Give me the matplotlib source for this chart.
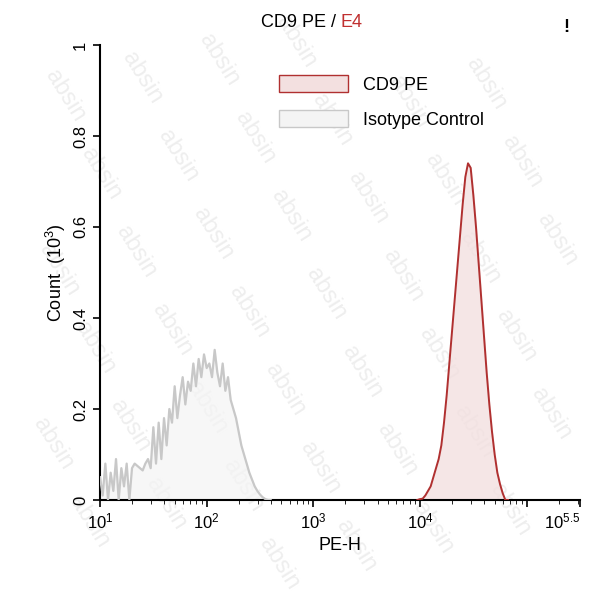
import numpy as np
import matplotlib
matplotlib.use('Agg')
import matplotlib.pyplot as plt
from matplotlib.patches import Patch

plt.rcParams['font.family'] = ['Liberation Sans', 'DejaVu Sans']
plt.rcParams['mathtext.fontset'] = 'custom'
plt.rcParams['mathtext.rm'] = 'Liberation Sans'
plt.rcParams['mathtext.it'] = 'Liberation Sans'

# Histogram data (log10 PE-H, count in 10^3)
iso_logx = np.arange(1.0, 2.625, 0.025)
iso_counts = [0.05, 0.01, 0.08, 0.0, 0.06, 0.02, 0.09, 0.0, 0.07, 0.03, 0.08, 0.0,
              0.07, 0.08, 0.075, 0.07, 0.065, 0.08, 0.09, 0.07, 0.16, 0.08, 0.17, 0.09,
              0.18, 0.12, 0.20, 0.17, 0.25, 0.18, 0.23, 0.27, 0.21, 0.26, 0.24, 0.30,
              0.25, 0.31, 0.27, 0.32, 0.29, 0.30, 0.27, 0.33, 0.28, 0.25, 0.30, 0.24,
              0.27, 0.22, 0.20, 0.18, 0.15, 0.12, 0.10, 0.08, 0.06, 0.045, 0.03, 0.02,
              0.012, 0.006, 0.002, 0.0, 0.0]
cd9_logx = np.arange(3.975, 4.85, 0.025)
cd9_counts = [0.0, 0.002, 0.003, 0.01, 0.02, 0.03, 0.05, 0.07, 0.09, 0.12, 0.17,
              0.23, 0.30, 0.37, 0.44, 0.51, 0.58, 0.65, 0.71, 0.74, 0.73, 0.67,
              0.60, 0.52, 0.44, 0.36, 0.28, 0.21, 0.15, 0.10, 0.06, 0.035, 0.015, 0.0, 0.0]

fig = plt.figure(figsize=(5.93, 6.0), dpi=100)
ax = fig.add_axes([100/593, 100/600, 480/593, 455/600])

# watermark
for i in range(-2, 8):
    for j in range(-2, 8):
        px = 0.05 + i*0.13 + j*0.06
        py = 0.97 - j*0.13 + i*0.03
        if 0.05 < px < 0.95 and 0.05 < py < 0.95:
            fig.text(px, py, 'absin', rotation=-58, fontsize=17, color='#eeeeee',
                     ha='center', va='center', zorder=-1)

ax.patch.set_alpha(0)
iso_x = 10 ** iso_logx
cd9_x = 10 ** cd9_logx
ax.fill_between(iso_x, iso_counts, color='#f4f4f4', alpha=0.7, zorder=2)
ax.plot(iso_x, iso_counts, color='#c8c8c8', lw=1.6, zorder=3)
ax.fill_between(cd9_x, cd9_counts, color='#f3e0e0', alpha=0.8, zorder=2)
ax.plot(cd9_x, cd9_counts, color='#b03030', lw=1.4, zorder=3)

ax.set_xscale('log')
ax.set_xlim(10, 10**5.5)
ax.set_ylim(0, 1)
ax.set_xticks([10, 100, 1e3, 1e4, 1e5, 10**5.5])
ax.set_xticklabels(['$10^{1}$', '$10^{2}$', '$10^{3}$', '$10^{4}$', '', '$10^{5.5}$'], fontsize=12)
ax.get_xticklabels()[-1].set_horizontalalignment('right')
ax.get_xticklabels()[-1].set_x(10**5.5)
ax.set_yticks([0, 0.2, 0.4, 0.6, 0.8, 1])
ax.set_yticklabels(['0', '0.2', '0.4', '0.6', '0.8', '1'], rotation=90, va='center', fontsize=12)
ax.tick_params(direction='out', length=5, width=1.2)
ax.tick_params(which='minor', length=3)
for s in ['top', 'right']:
    ax.spines[s].set_visible(False)
for s in ['left', 'bottom']:
    ax.spines[s].set_linewidth(1.5)
ax.set_xlabel('PE-H', fontsize=13)
ax.set_ylabel('Count  $(10^3)$', fontsize=13)

fig.text(0.575, 0.962, 'CD9 PE / ', ha='right', va='center', fontsize=13)
fig.text(0.575, 0.962, 'E4', ha='left', va='center', fontsize=13, color='#c03030')
fig.text(0.955, 0.955, '!', ha='center', va='center', fontsize=13, weight='bold')

handles = [Patch(facecolor='#f3e0e0', edgecolor='#b03030', label='CD9 PE'),
           Patch(facecolor='#f4f4f4', edgecolor='#c8c8c8', label='Isotype Control')]
ax.legend(handles=handles, loc='upper left', bbox_to_anchor=(0.34, 0.97), frameon=False,
          fontsize=13, handlelength=3.8, handleheight=1.1, labelspacing=0.9)

fig.savefig('out.png', dpi=100)
